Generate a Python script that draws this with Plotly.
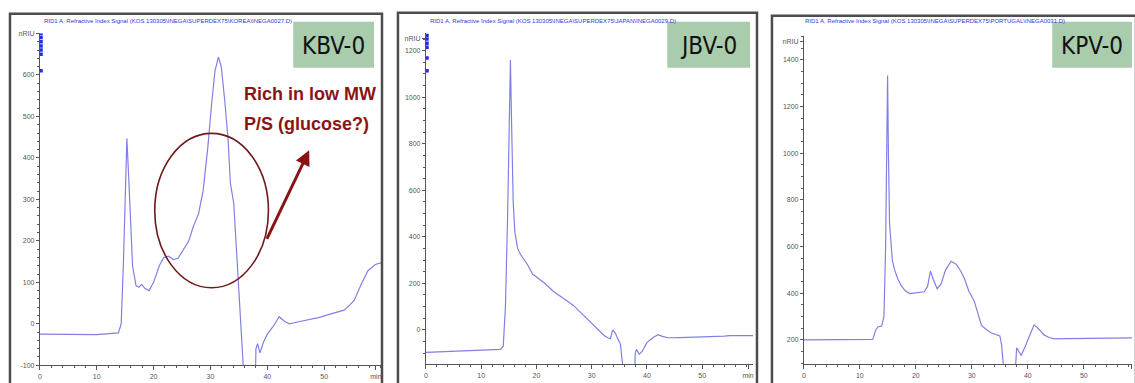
import plotly.graph_objects as go

W, H = 1135, 383

# ---------------- data ----------------
kbv_t = [0, 5, 10, 13.8, 14.3, 14.7, 15.0, 15.3, 15.6, 15.9, 16.3, 16.9, 17.4, 17.9, 18.5, 19.2,
         20.0, 21.0, 21.8, 22.6, 23.5, 24.3, 25.3, 26.2, 27.0, 27.9, 28.7, 29.5, 30.2, 30.8, 31.4,
         31.9, 32.5, 33.1, 33.5, 33.8, 34.1, 34.4, 35.0, 35.6, 36.0, 36.4, 37.7, 38.0, 38.3, 38.7,
         39.3, 40.0, 41.0, 42.1, 43.0, 43.9, 45.5, 47.2, 49.0, 51.2, 53.5, 54.5, 55.3, 56.5, 57.7,
         59.0, 60.0]
kbv_v = [-25, -26, -26, -22, 0, 150, 330, 447, 360, 250, 140, 92, 88, 95, 85, 80,
         100, 140, 160, 163, 155, 158, 180, 200, 235, 265, 320, 420, 530, 610, 643,
         620, 540, 445, 340, 315, 290, 220, 80, -60, -140, -250, -300, -60, -48, -70,
         -45, -25, -7, 17, 6, 0, 5, 9, 15, 24, 33, 45, 57, 95, 128,
         143, 147]

jbv_t = [0, 5, 10, 13.5, 14.0, 14.4, 14.8, 15.1, 15.3, 15.5, 15.8, 16.1, 16.6, 17.1, 17.7, 18.4,
         19.3, 20.4, 21.5, 23.1, 24.5, 25.5, 26.7, 28.0, 29.4, 31.0, 32.3, 32.9, 33.4, 33.8, 34.3,
         34.8, 35.2, 35.6, 36.0, 37.6, 37.9, 38.1, 38.6, 39.2, 40.0, 41.0, 42.0, 42.8, 43.8, 46,
         48, 50, 52, 54, 55, 57, 59.2]
jbv_v = [-97, -93, -88, -84, -70, 100, 500, 1000, 1160, 900, 550, 420, 350, 325, 304, 280,
         240, 219, 200, 165, 140, 125, 105, 75, 42, 5, -25, -34, -38, 0, -15,
         -42, -60, -150, -300, -300, -100, -84, -105, -90, -55, -35, -21, -28, -34, -33,
         -32, -30, -30, -27, -25, -26, -25]

kpv_t = [0, 5, 10, 12.3, 12.8, 13.2, 13.9, 14.3, 14.6, 14.95, 15.1, 15.3, 15.8, 16.2, 16.8, 17.4,
         18.1, 18.9, 19.6, 20.3, 21.5, 22.1, 22.6, 23.1, 23.8, 24.5, 25.3, 26.3, 27.2, 28.0, 28.7,
         29.5, 30.4, 31.0, 31.7, 32.5, 33.5, 35.0, 35.3, 35.6, 36.0, 37.6, 38.0, 38.4, 38.8, 39.5,
         40.3, 41.1, 41.6, 42.3, 42.9, 43.8, 44.7, 47, 50, 53, 56, 58.6]
kpv_v = [200, 200, 200, 202, 240, 255, 259, 300, 600, 1333, 1000, 700, 540, 500, 460, 432,
         410, 398, 400, 402, 406, 430, 495, 460, 419, 440, 500, 537, 524, 495, 461,
         406, 368, 320, 263, 245, 229, 217, 180, 100, 0, 0, 166, 150, 133, 170,
         220, 263, 255, 235, 221, 210, 204, 205, 206, 207, 208, 208]

# ChemStation event marks near the top of the signal axis
kbv_marks = [700, 690, 680, 670, 660, 650, 610]
jbv_marks = [1266, 1250, 1232, 1215, 1169, 1114]

sample_labels = ["KBV-0", "JBV-0", "KPV-0"]
signal_titles = [
    "RID1 A, Refractive Index Signal (KOS 130305\\INEGA\\SUPERDEX75\\KOREA\\INEGA0027.D)",
    "RID1 A, Refractive Index Signal (KOS 130305\\INEGA\\SUPERDEX75\\JAPAN\\INEGA0029.D)",
    "RID1 A, Refractive Index Signal (KOS 130305\\INEGA\\SUPERDEX75\\PORTUGAL\\INEGA0031.D)",
]

kbv_yticks = [-100, 0, 100, 200, 300, 400, 500, 600]
jbv_yticks = [0, 200, 400, 600, 800, 1000, 1200]
kpv_yticks = [200, 400, 600, 800, 1000, 1200, 1400]
x_ticks = [0, 10, 20, 30, 40, 50]

# ---------------- helpers ----------------
def px(x):
    return x / W

def py(y):
    return 1 - y / H

LINE = "rgb(128,128,228)"
AXC = "#555555"
TICKF = dict(family="Liberation Sans, Arial", size=7, color="#555555")
RED = "#8a1414"

fig = go.Figure()

panels = [
    dict(t=kbv_t, v=kbv_v, xd=(38, 380), yd=(368, 30), xr=(0, 60), yr=(-100, 700),
         yt=kbv_yticks, unit_v=700, min_v=59.1, minor=20, marks=kbv_marks,
         frame=(8, 10, 381, 400), box=(292, 18, 373, 65), title_x=40),
    dict(t=jbv_t, v=jbv_v, xd=(425, 753), yd=(367, 30), xr=(0, 59.2), yr=(-148, 1274),
         yt=jbv_yticks, unit_v=1253, min_v=58.3, minor=50, marks=jbv_marks,
         frame=(397, 9, 757, 400), box=(667, 18, 750, 65), title_x=427),
    dict(t=kpv_t, v=kpv_v, xd=(804, 1133), yd=(367, 33), xr=(0, 58.6), yr=(95, 1501),
         yt=kpv_yticks, unit_v=1480, min_v=58.5, minor=50, marks=None,
         frame=(772, 12, 1137, 400), box=(1053, 18, 1133, 65), title_x=803),
]

shapes = []
annotations = []

for i, p in enumerate(panels):
    n = "" if i == 0 else str(i + 1)
    xa, ya = "x" + n, "y" + n
    fig.add_trace(go.Scatter(x=p["t"], y=p["v"], mode="lines",
                             line=dict(color=LINE, width=1.2),
                             xaxis=xa, yaxis=ya, showlegend=False, hoverinfo="skip"))
    if p["marks"]:
        fig.add_trace(go.Scatter(x=[0.2] * len(p["marks"]), y=p["marks"], mode="markers",
                                 marker=dict(color="#1f2fe0", size=3.5, symbol="square"),
                                 xaxis=xa, yaxis=ya, showlegend=False, hoverinfo="skip"))
    xaxis = dict(domain=[px(p["xd"][0]), px(p["xd"][1])], range=list(p["xr"]),
                 anchor=ya, showgrid=False, zeroline=False, showline=True,
                 linecolor=AXC, linewidth=1, ticks="outside", ticklen=4, tickcolor=AXC,
                 tickvals=x_ticks + [p["min_v"]],
                 ticktext=[str(v) for v in x_ticks] + ["min"],
                 tickfont=TICKF,
                 minor=dict(ticks="outside", ticklen=2, dtick=2, tickcolor=AXC))
    yaxis = dict(domain=[py(p["yd"][0]), py(p["yd"][1])], range=list(p["yr"]),
                 anchor=xa, showgrid=False, zeroline=False, showline=True,
                 linecolor=AXC, linewidth=1, ticks="outside", ticklen=3, tickcolor=AXC,
                 tickvals=p["yt"] + [p["unit_v"]],
                 ticktext=[str(v) for v in p["yt"]] + ["nRIU"],
                 tickfont=TICKF,
                 minor=dict(ticks="outside", ticklen=2, dtick=p["minor"], tickcolor=AXC))
    fig.update_layout(**{"xaxis" + n: xaxis, "yaxis" + n: yaxis})

    # panel frame
    fx0, fy0, fx1, fy1 = p["frame"]
    shapes.append(dict(type="rect", xref="paper", yref="paper",
                       x0=px(fx0), x1=px(fx1), y0=py(fy1), y1=py(fy0),
                       line=dict(color="#4d4d4d", width=2.5), fillcolor="rgba(0,0,0,0)",
                       layer="above"))
    # sample label box
    bx0, by0, bx1, by1 = p["box"]
    shapes.append(dict(type="rect", xref="paper", yref="paper",
                       x0=px(bx0), x1=px(bx1), y0=py(by1), y1=py(by0),
                       line=dict(width=0), fillcolor="rgb(168,204,172)", layer="above"))
    annotations.append(dict(xref="paper", yref="paper", x=px((bx0 + bx1) / 2),
                            y=py((by0 + by1) / 2 + 1), text=sample_labels[i], showarrow=False,
                            xanchor="center", yanchor="middle",
                            font=dict(family="DejaVu Sans Condensed, DejaVu Sans",
                                      size=24, color="#111111")))
    # signal title
    annotations.append(dict(xref="paper", yref="paper", x=px(p["title_x"]), y=py(17),
                            text=signal_titles[i], showarrow=False,
                            xanchor="left", yanchor="middle",
                            font=dict(family="Liberation Sans, Arial",
                                      size=6, color="#2a3be0")))

# ellipse highlighting the low-MW region in KBV-0
shapes.append(dict(type="circle", xref="x", yref="y", x0=20.2, x1=40.2, y0=87, y1=459,
                   line=dict(color="#6e1a1a", width=1.6), fillcolor="rgba(0,0,0,0)"))

annotations.append(dict(xref="paper", yref="paper", x=px(241), y=py(92),
                        text="<b>Rich in low MW</b>", showarrow=False,
                        xanchor="left", yanchor="middle",
                        font=dict(family="Liberation Sans, Arial", size=18, color=RED)))
annotations.append(dict(xref="paper", yref="paper", x=px(241), y=py(122),
                        text="<b>P/S (glucose?)</b>", showarrow=False,
                        xanchor="left", yanchor="middle",
                        font=dict(family="Liberation Sans, Arial", size=18, color=RED)))
annotations.append(dict(xref="paper", yref="paper", x=px(308), y=py(149), text="",
                        showarrow=True, ax=-43, ay=90, arrowhead=2, arrowsize=1,
                        arrowwidth=3, arrowcolor=RED))

fig.update_layout(width=W, height=H, margin=dict(l=0, r=0, t=0, b=0),
                  paper_bgcolor="white", plot_bgcolor="white",
                  shapes=shapes, annotations=annotations, showlegend=False)

fig.write_html("out.html")
